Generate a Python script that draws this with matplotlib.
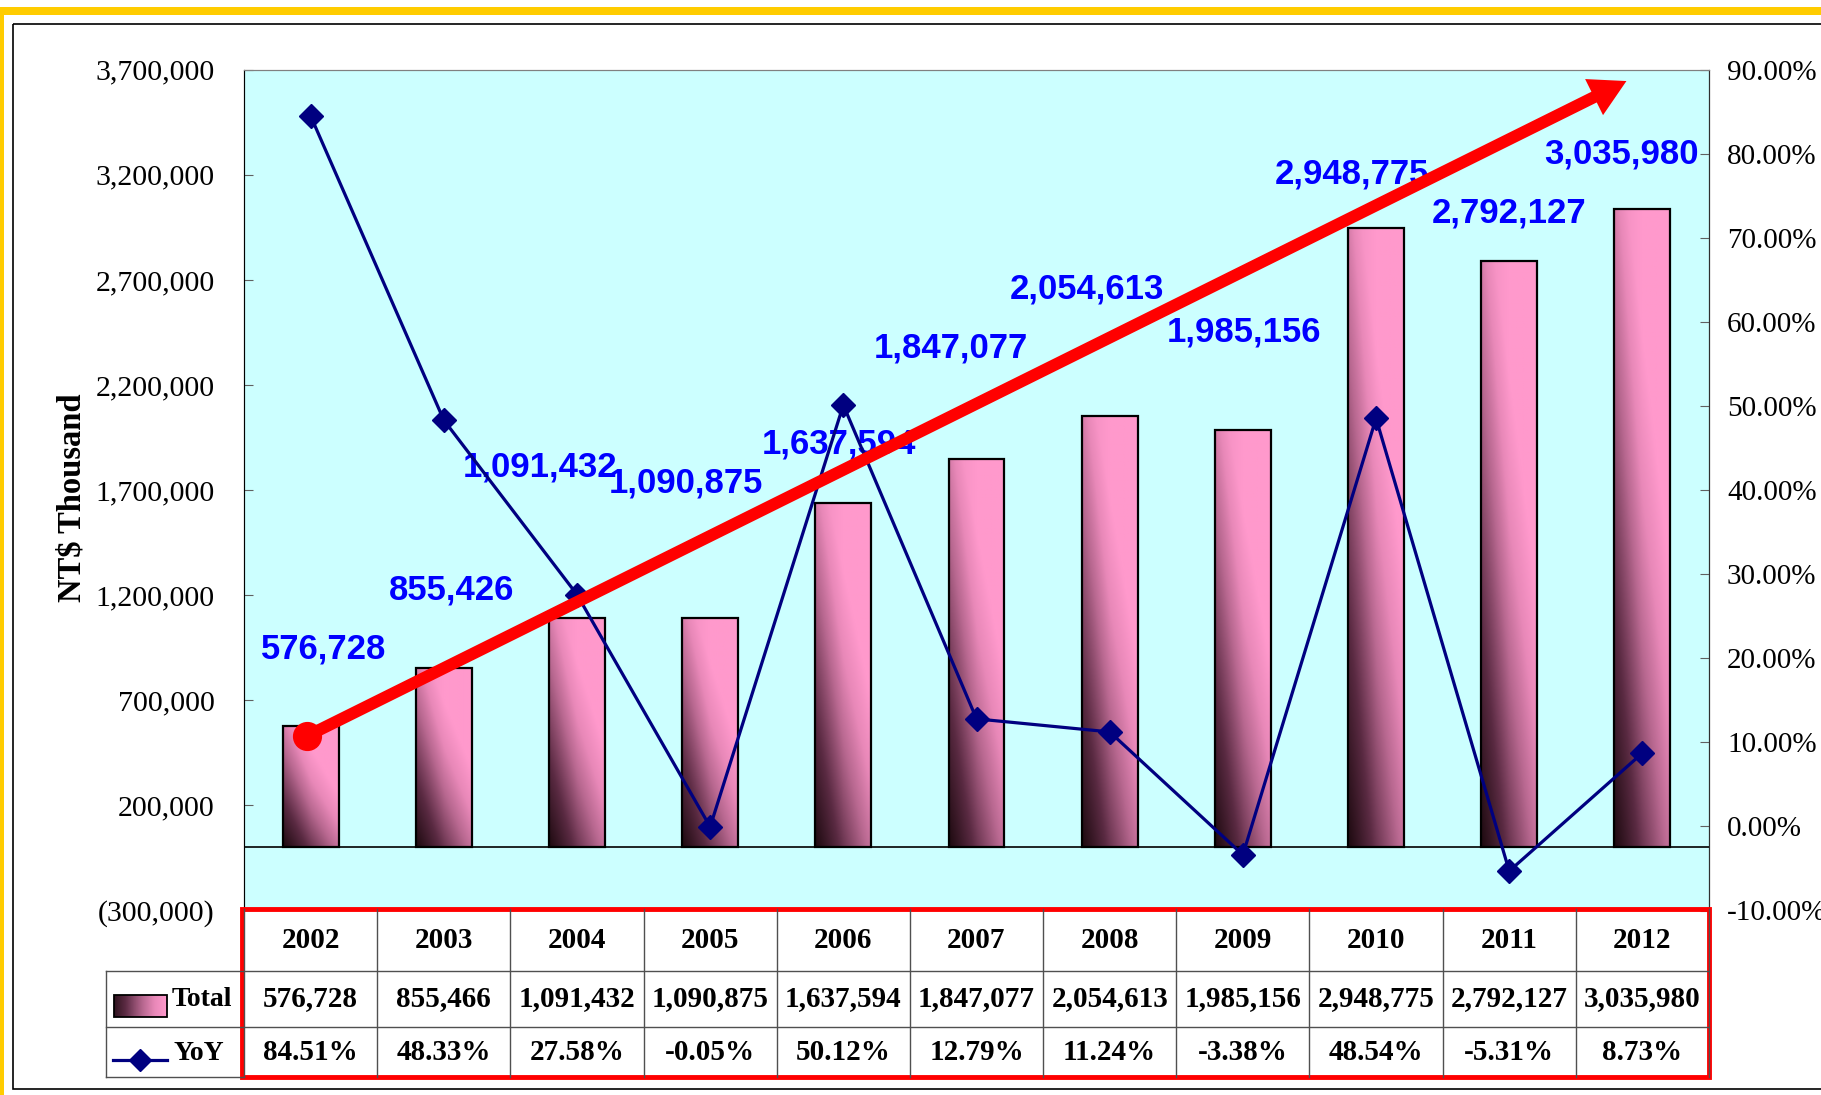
import numpy as np
import matplotlib.pyplot as plt
from matplotlib.patches import Rectangle
from matplotlib.colors import LinearSegmentedColormap
from matplotlib.ticker import FuncFormatter, FixedLocator

# data
years = ['2002', '2003', '2004', '2005', '2006', '2007', '2008', '2009', '2010', '2011', '2012']
total = [576728, 855466, 1091432, 1090875, 1637594, 1847077, 2054613, 1985156, 2948775, 2792127, 3035980]
yoy = [84.51, 48.33, 27.58, -0.05, 50.12, 12.79, 11.24, -3.38, 48.54, -5.31, 8.73]
bar_labels = ['576,728', '855,426', '1,091,432', '1,090,875', '1,637,594', '1,847,077',
              '2,054,613', '1,985,156', '2,948,775', '2,792,127', '3,035,980']

# where the blue labels sit (left axis units)
label_x = [0.10, 1.06, 1.72, 2.82, 3.97, 4.81, 5.83, 7.01, 7.82, 9.00, 9.84]
label_y = [944000, 1225000, 1810000, 1734000, 1919000, 2376000, 2657000, 2452000, 3204000, 3018000, 3299000]

W, H = 1821, 1095
fig = plt.figure(figsize=(W / 100, H / 100), dpi=100)
fig.patch.set_facecolor('white')

serif = 'Liberation Serif'
sans = 'Liberation Sans'

# background frame
bg = fig.add_axes([0, 0, 1, 1])
bg.set_xlim(0, W)
bg.set_ylim(H, 0)
bg.axis('off')
bg.add_patch(Rectangle((0, 7), W, 8, color='#FFCC00', lw=0))
bg.add_patch(Rectangle((0, 7), 4, H, color='#FFCC00', lw=0))
bg.add_patch(Rectangle((13, 24), W, 1065, fill=False, ec='black', lw=1.2))

# main plot area
px_l, px_r, px_t, px_b = 244, 1709, 69.7, 910.5
ax = fig.add_axes([px_l / W, 1 - px_b / H, (px_r - px_l) / W, (px_b - px_t) / H])
ax.set_facecolor('#CCFFFF')
x = np.arange(len(years))
bw = 0.42

cmap = LinearSegmentedColormap.from_list(
    'bar', [(0, '#140508'), (0.3, '#5a2a42'), (0.6, '#b86890'), (0.8, '#e888b8'), (1, '#ff99cc')])
bars = ax.bar(x, total, bw, facecolor='none', edgecolor='black', lw=1.6, zorder=3)
for i, v in enumerate(total):
    X, Y = np.meshgrid(np.linspace(0, 1, 60), np.linspace(0, 1, 300))
    t = np.clip(0.6 * X + 0.8 * Y + 0.05, 0, 1)
    t = t * (0.85 + 0.15 * np.clip(X / 0.5, 0, 1))
    ax.imshow(t, extent=[i - bw / 2, i + bw / 2, 0, v], origin='lower', cmap=cmap,
              vmin=0, vmax=1, aspect='auto', zorder=2, interpolation='bilinear')

for lx, ly, s in zip(label_x, label_y, bar_labels):
    ax.text(lx, ly, s, color='#0000FF', fontsize=25, fontweight='bold', family=sans,
            ha='center', va='center', zorder=4)

ax.axhline(0, color='black', lw=1.2, zorder=2.5)
ax.set_xlim(-0.5, len(years) - 0.5)
ax.set_ylim(-300000, 3700000)
ax.yaxis.set_major_locator(FixedLocator(np.arange(-300000, 3700001, 500000)))
ax.yaxis.set_major_formatter(FuncFormatter(
    lambda v, p: f"({abs(v):,.0f})" if v < 0 else f"{v:,.0f}"))
ax.set_xticks([])
ax.tick_params(axis='y', direction='in', length=6.5, color='#606060', pad=21, labelsize=21.5)
for lab in ax.get_yticklabels():
    lab.set_family(serif)
fig.text(72 / W, 1 - 498 / H, 'NT$ Thousand', fontsize=23.5, fontweight='bold', family=serif,
         rotation=90, ha='center', va='center')
ax.spines['top'].set_color('#808080')
ax.spines['left'].set_color('#404040')
ax.spines['bottom'].set_visible(False)

# YoY line on the right axis
ax2 = ax.twinx()
ax2.plot(x, yoy, color='#000080', lw=2.3, marker='D', ms=12, zorder=5)
ax2.set_ylim(-10, 90)
ax2.yaxis.set_major_locator(FixedLocator(np.arange(-10, 91, 10)))
ax2.yaxis.set_major_formatter(FuncFormatter(lambda v, p: f"{v:.2f}%"))
ax2.tick_params(axis='y', direction='in', length=6.5, color='#606060', pad=13, labelsize=21)
for lab in ax2.get_yticklabels():
    lab.set_family(serif)
ax2.spines['right'].set_color('#303030')
ax2.spines['bottom'].set_visible(False)
ax2.spines['top'].set_color('#808080')

# red trend arrow
ax2.annotate('', xy=(9.88, 3646000), xytext=(-0.03, 529000),
             xycoords=ax.transData, textcoords=ax.transData,
             arrowprops=dict(arrowstyle='simple,head_length=2.6,head_width=2.9,tail_width=0.86',
                             mutation_scale=10, color='red', lw=0, shrinkA=0, shrinkB=0),
             zorder=6)
ax2.plot([-0.03], [529000], 'o', color='red', ms=20, transform=ax.transData, zorder=7)
ax2.set_xlim(-0.5, len(years) - 0.5)
ax2.set_ylim(-10, 90)

# data table
tb = fig.add_axes([0, 0, 1, 1])
tb.set_xlim(0, W)
tb.set_ylim(H, 0)
tb.axis('off')
tb.patch.set_alpha(0)
r0, r1, r2, r3 = 909, 971, 1027, 1077
leg_l = 106
colw = (px_r - px_l) / len(years)
edges = [px_l + k * colw for k in range(len(years) + 1)]
gcol = '#505050'
for e in edges:
    tb.plot([e, e], [r0, r3], color=gcol, lw=1)
for r in (r1, r2):
    tb.plot([leg_l, px_r], [r, r], color=gcol, lw=1)
tb.plot([leg_l, leg_l], [r1, r3], color=gcol, lw=1)
tb.plot([leg_l, px_l], [r3, r3], color=gcol, lw=1)

tfont = dict(fontsize=21, fontweight='bold', family=serif, ha='center', va='center')
for k, yr in enumerate(years):
    cx = (edges[k] + edges[k + 1]) / 2
    tb.text(cx, (r0 + r1) / 2, yr, **tfont)
    tb.text(cx, (r1 + r2) / 2, f"{total[k]:,}", **tfont)
    tb.text(cx, (r2 + r3) / 2 + 1, f"{yoy[k]:.2f}%", **tfont)

# legend keys
sw = np.linspace(0.12, 1, 50).reshape(1, -1)
tb.imshow(sw, extent=[114, 167, 1017, 995], cmap=cmap, vmin=0, vmax=1, aspect='auto')
tb.add_patch(Rectangle((114, 995), 53, 22, fill=False, ec='black', lw=1.3))
tb.text(172, (r1 + r2) / 2, 'Total', fontsize=20, fontweight='bold', family=serif, ha='left', va='center')
tb.plot([113, 167], [1060, 1060], color='#000080', lw=2.3)
tb.plot([140], [1060], marker='D', color='#000080', ms=11)
tb.text(174, (r2 + r3) / 2 + 1, 'YoY', fontsize=20, fontweight='bold', family=serif, ha='left', va='center')
tb.add_patch(Rectangle((px_l - 2, r0), px_r - px_l + 2, r3 - r0, fill=False, ec='#FF0000', lw=3.5))
tb.set_xlim(0, W)
tb.set_ylim(H, 0)

fig.savefig('out.png', dpi=100)
